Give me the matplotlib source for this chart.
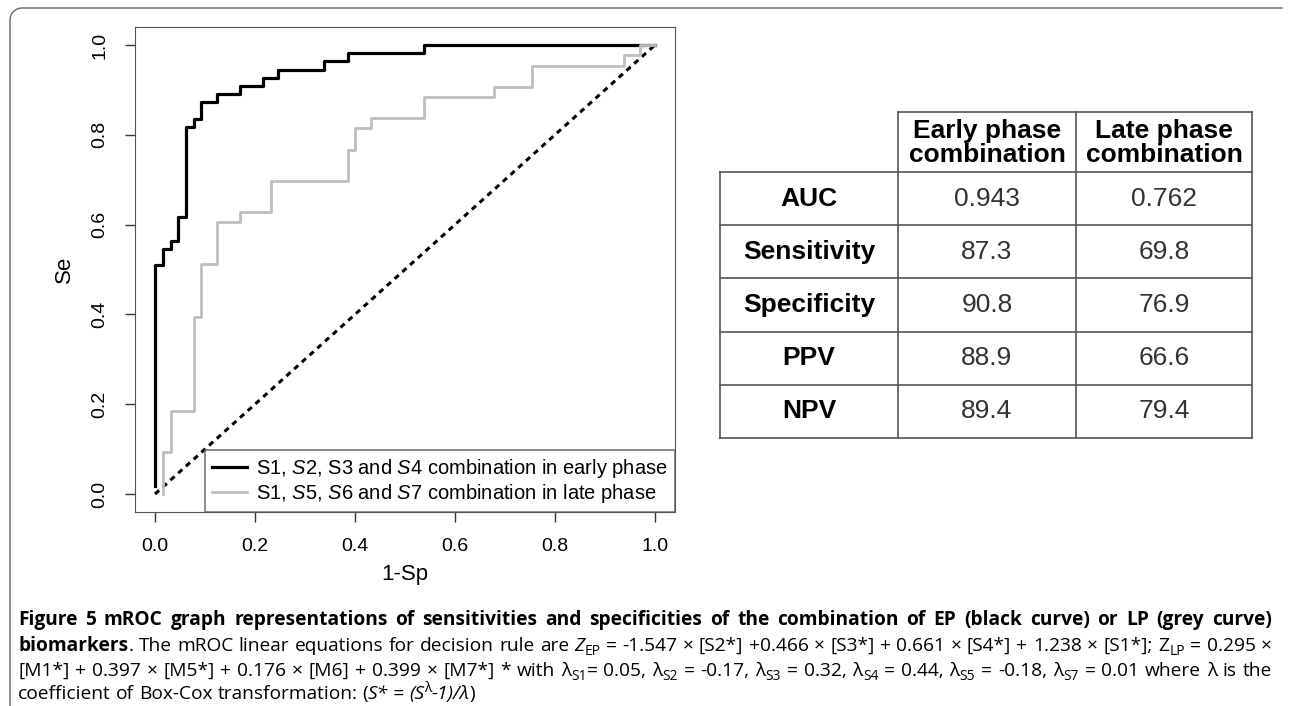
import numpy as np
import matplotlib.pyplot as plt

plt.rcParams['font.family'] = ['Liberation Sans', 'DejaVu Sans']
plt.rcParams['mathtext.fontset'] = 'custom'
plt.rcParams['mathtext.rm'] = 'Liberation Sans'
plt.rcParams['mathtext.it'] = 'Liberation Sans:italic'

# ROC step vertices (1-Sp, Se)
early_fpr = [0.0, 0.0, 0.015, 0.031, 0.046, 0.062, 0.077, 0.092, 0.123, 0.169,
             0.215, 0.246, 0.338, 0.385, 0.538, 1.0]
early_se = [0.018, 0.509, 0.545, 0.564, 0.618, 0.818, 0.836, 0.873, 0.891, 0.909,
            0.927, 0.945, 0.964, 0.982, 1.0, 1.0]
late_fpr = [0.015, 0.015, 0.031, 0.077, 0.092, 0.123, 0.169, 0.231, 0.385, 0.4,
            0.431, 0.538, 0.677, 0.754, 0.938, 0.969, 1.0]
late_se = [0.0, 0.093, 0.186, 0.395, 0.512, 0.605, 0.628, 0.698, 0.767, 0.814,
           0.837, 0.884, 0.907, 0.953, 0.977, 1.0, 1.0]
early_label = r'S1, $\mathit{S2}$, S3 and $\mathit{S4}$ combination in early phase'
late_label = r'S1, $\mathit{S5}$, $\mathit{S6}$ and $\mathit{S7}$ combination in late phase'
ticks = [0.0, 0.2, 0.4, 0.6, 0.8, 1.0]

# table
col_heads = ['Early phase\ncombination', 'Late phase\ncombination']
row_names = ['AUC', 'Sensitivity', 'Specificity', 'PPV', 'NPV']
early_vals = ['0.943', '87.3', '90.8', '88.9', '89.4']
late_vals = ['0.762', '69.8', '76.9', '66.6', '79.4']

# caption, chunks of (text, style)
caption = [
    [("Figure 5 mROC graph representations of sensitivities and specificities of the "
      "combination of EP (black curve) or LP (grey curve)", 'b')],
    [("biomarkers", 'b'), (". The mROC linear equations for decision rule are ", 'n'),
     ("Z", 'i'), ("EP", 'sub'),
     (" = -1.547 × [S2*] +0.466 × [S3*] + 0.661 × [S4*] + 1.238 × [S1*]; Z", 'n'),
     ("LP", 'sub'), (" = 0.295 ×", 'n')],
    [("[M1*] + 0.397 × [M5*] + 0.176 × [M6] + 0.399 × [M7*] * with λ", 'n'), ("S1", 'sub'),
     ("= 0.05, λ", 'n'), ("S2", 'sub'), (" = -0.17, λ", 'n'), ("S3", 'sub'),
     (" = 0.32, λ", 'n'), ("S4", 'sub'), (" = 0.44, λ", 'n'), ("S5", 'sub'),
     (" = -0.18, λ", 'n'), ("S7", 'sub'), (" = 0.01 where λ is the", 'n')],
    [("coefficient of Box-Cox transformation: (", 'n'), ("S* = (S", 'i'), ("λ", 'sup'),
     ("-1)/λ", 'i'), (")", 'n')],
]

W, H = 1290, 706
fig = plt.figure(figsize=(W / 100, H / 100), dpi=100)

# overlay in pixel coords for frame, table, caption
ov = fig.add_axes([0, 0, 1, 1])
ov.set_xlim(0, W)
ov.set_ylim(H, 0)
ov.axis('off')

# rounded page frame
a = np.linspace(np.pi, 1.5 * np.pi, 20)
fx = np.concatenate([[10], 22 + 12 * np.cos(a), [1282]])
fy = np.concatenate([[706], 20 + 12 * np.sin(a), [8]])
ov.plot(fx, fy, color='#666666', lw=1)

# ROC plot
ax = fig.add_axes([135 / W, 1 - 512 / H, 540 / W, 485 / H])
ax.plot([0, 1], [0, 1], color='black', lw=2.2, linestyle=(0, (1.8, 1.6)))
ax.plot(early_fpr, early_se, drawstyle='steps-post', color='black', lw=2.3, label=early_label)
ax.plot(late_fpr, late_se, drawstyle='steps-post', color='#bebebe', lw=2.0, label=late_label)
ax.set_xlim(-0.04, 1.04)
ax.set_ylim(-0.04, 1.04)
ax.set_xticks(ticks)
ax.set_xticklabels(['%.1f' % t for t in ticks])
ax.set_yticks(ticks)
ax.set_yticklabels(['%.1f' % t for t in ticks], rotation=90, va='center')
ax.tick_params(direction='out', length=7, width=1, labelsize=14, pad=12, color='#333333')
for s in ax.spines.values():
    s.set_color('#555555')
ax.set_xlabel('1-Sp', fontsize=16, labelpad=6)
ax.set_ylabel('Se', fontsize=16, labelpad=12)
leg = ax.legend(loc='lower right', fontsize=14.5, frameon=True, fancybox=False,
                borderaxespad=0, handlelength=1.75, handletextpad=0.45,
                borderpad=0.35, labelspacing=0.1)
leg.get_frame().set_edgecolor('#555555')
leg.get_frame().set_linewidth(1.2)

# table
xs = [720, 898, 1076, 1252]
top, head_b, row_h = 112, 172, 53.2
ys = [head_b + i * row_h for i in range(len(row_names) + 1)]
lc = '#555555'
ov.plot([xs[1], xs[3]], [top, top], color=lc, lw=1.2)
for y in ys:
    ov.plot([xs[0], xs[3]], [y, y], color=lc, lw=1.2)
ov.plot([xs[0], xs[0]], [ys[0], ys[-1]], color=lc, lw=1.2)
for x in xs[1:]:
    ov.plot([x, x], [top, ys[-1]], color=lc, lw=1.2)
for j, h in enumerate(col_heads):
    ov.text((xs[j + 1] + xs[j + 2]) / 2, (top + head_b) / 2 + 1, h, ha='center', va='center',
            fontsize=19, fontweight='bold', linespacing=0.95)
for i, name in enumerate(row_names):
    yc = (ys[i] + ys[i + 1]) / 2
    ov.text((xs[0] + xs[1]) / 2, yc, name, ha='center', va='center', fontsize=19, fontweight='bold')
    ov.text((xs[1] + xs[2]) / 2, yc, early_vals[i], ha='center', va='center', fontsize=19, color='#333333')
    ov.text((xs[2] + xs[3]) / 2, yc, late_vals[i], ha='center', va='center', fontsize=19, color='#333333')

# caption, laid out word by word and justified
cap_font = ['Open Sans', 'DejaVu Sans']
cap_size = 13.8
renderer = fig.canvas.get_renderer()


def make_run(text, style, y):
    kw = dict(fontsize=cap_size, family=cap_font, ha='left', va='baseline')
    dy = 0
    if style == 'b':
        kw['fontweight'] = 'bold'
    elif style == 'i':
        kw['fontstyle'] = 'italic'
    elif style == 'sub':
        kw['fontsize'] = cap_size * 0.72
        dy = 4
    elif style == 'sup':
        kw['fontsize'] = cap_size * 0.72
        dy = -7
    return ov.text(0, y + dy, text, **kw)


def draw_line(chunks, y, left, right, justify):
    words = [[]]
    for text, style in chunks:
        for k, p in enumerate(text.split(' ')):
            if k > 0:
                words.append([])
            if p:
                words[-1].append((p, style))
    words = [w for w in words if w]
    built = []
    for w in words:
        runs = []
        for text, style in w:
            t = make_run(text, style, y)
            runs.append((t, t.get_window_extent(renderer).width))
        built.append(runs)
    probe1 = ov.text(0, 0, 'a a', fontsize=cap_size, family=cap_font)
    probe2 = ov.text(0, 0, 'aa', fontsize=cap_size, family=cap_font)
    space = probe1.get_window_extent(renderer).width - probe2.get_window_extent(renderer).width
    probe1.remove()
    probe2.remove()
    widths = [sum(r[1] for r in runs) for runs in built]
    gap = space
    if justify and len(built) > 1:
        gap = (right - left - sum(widths)) / (len(built) - 1)
    x = left
    for runs, wd in zip(built, widths):
        for t, rw in runs:
            t.set_x(x)
            x += rw
        x += gap


baselines = [625, 651, 676, 699]
for k, chunks in enumerate(caption):
    draw_line(chunks, baselines[k], 18, 1272, k < len(caption) - 1)

fig.savefig('out.png', dpi=100)
